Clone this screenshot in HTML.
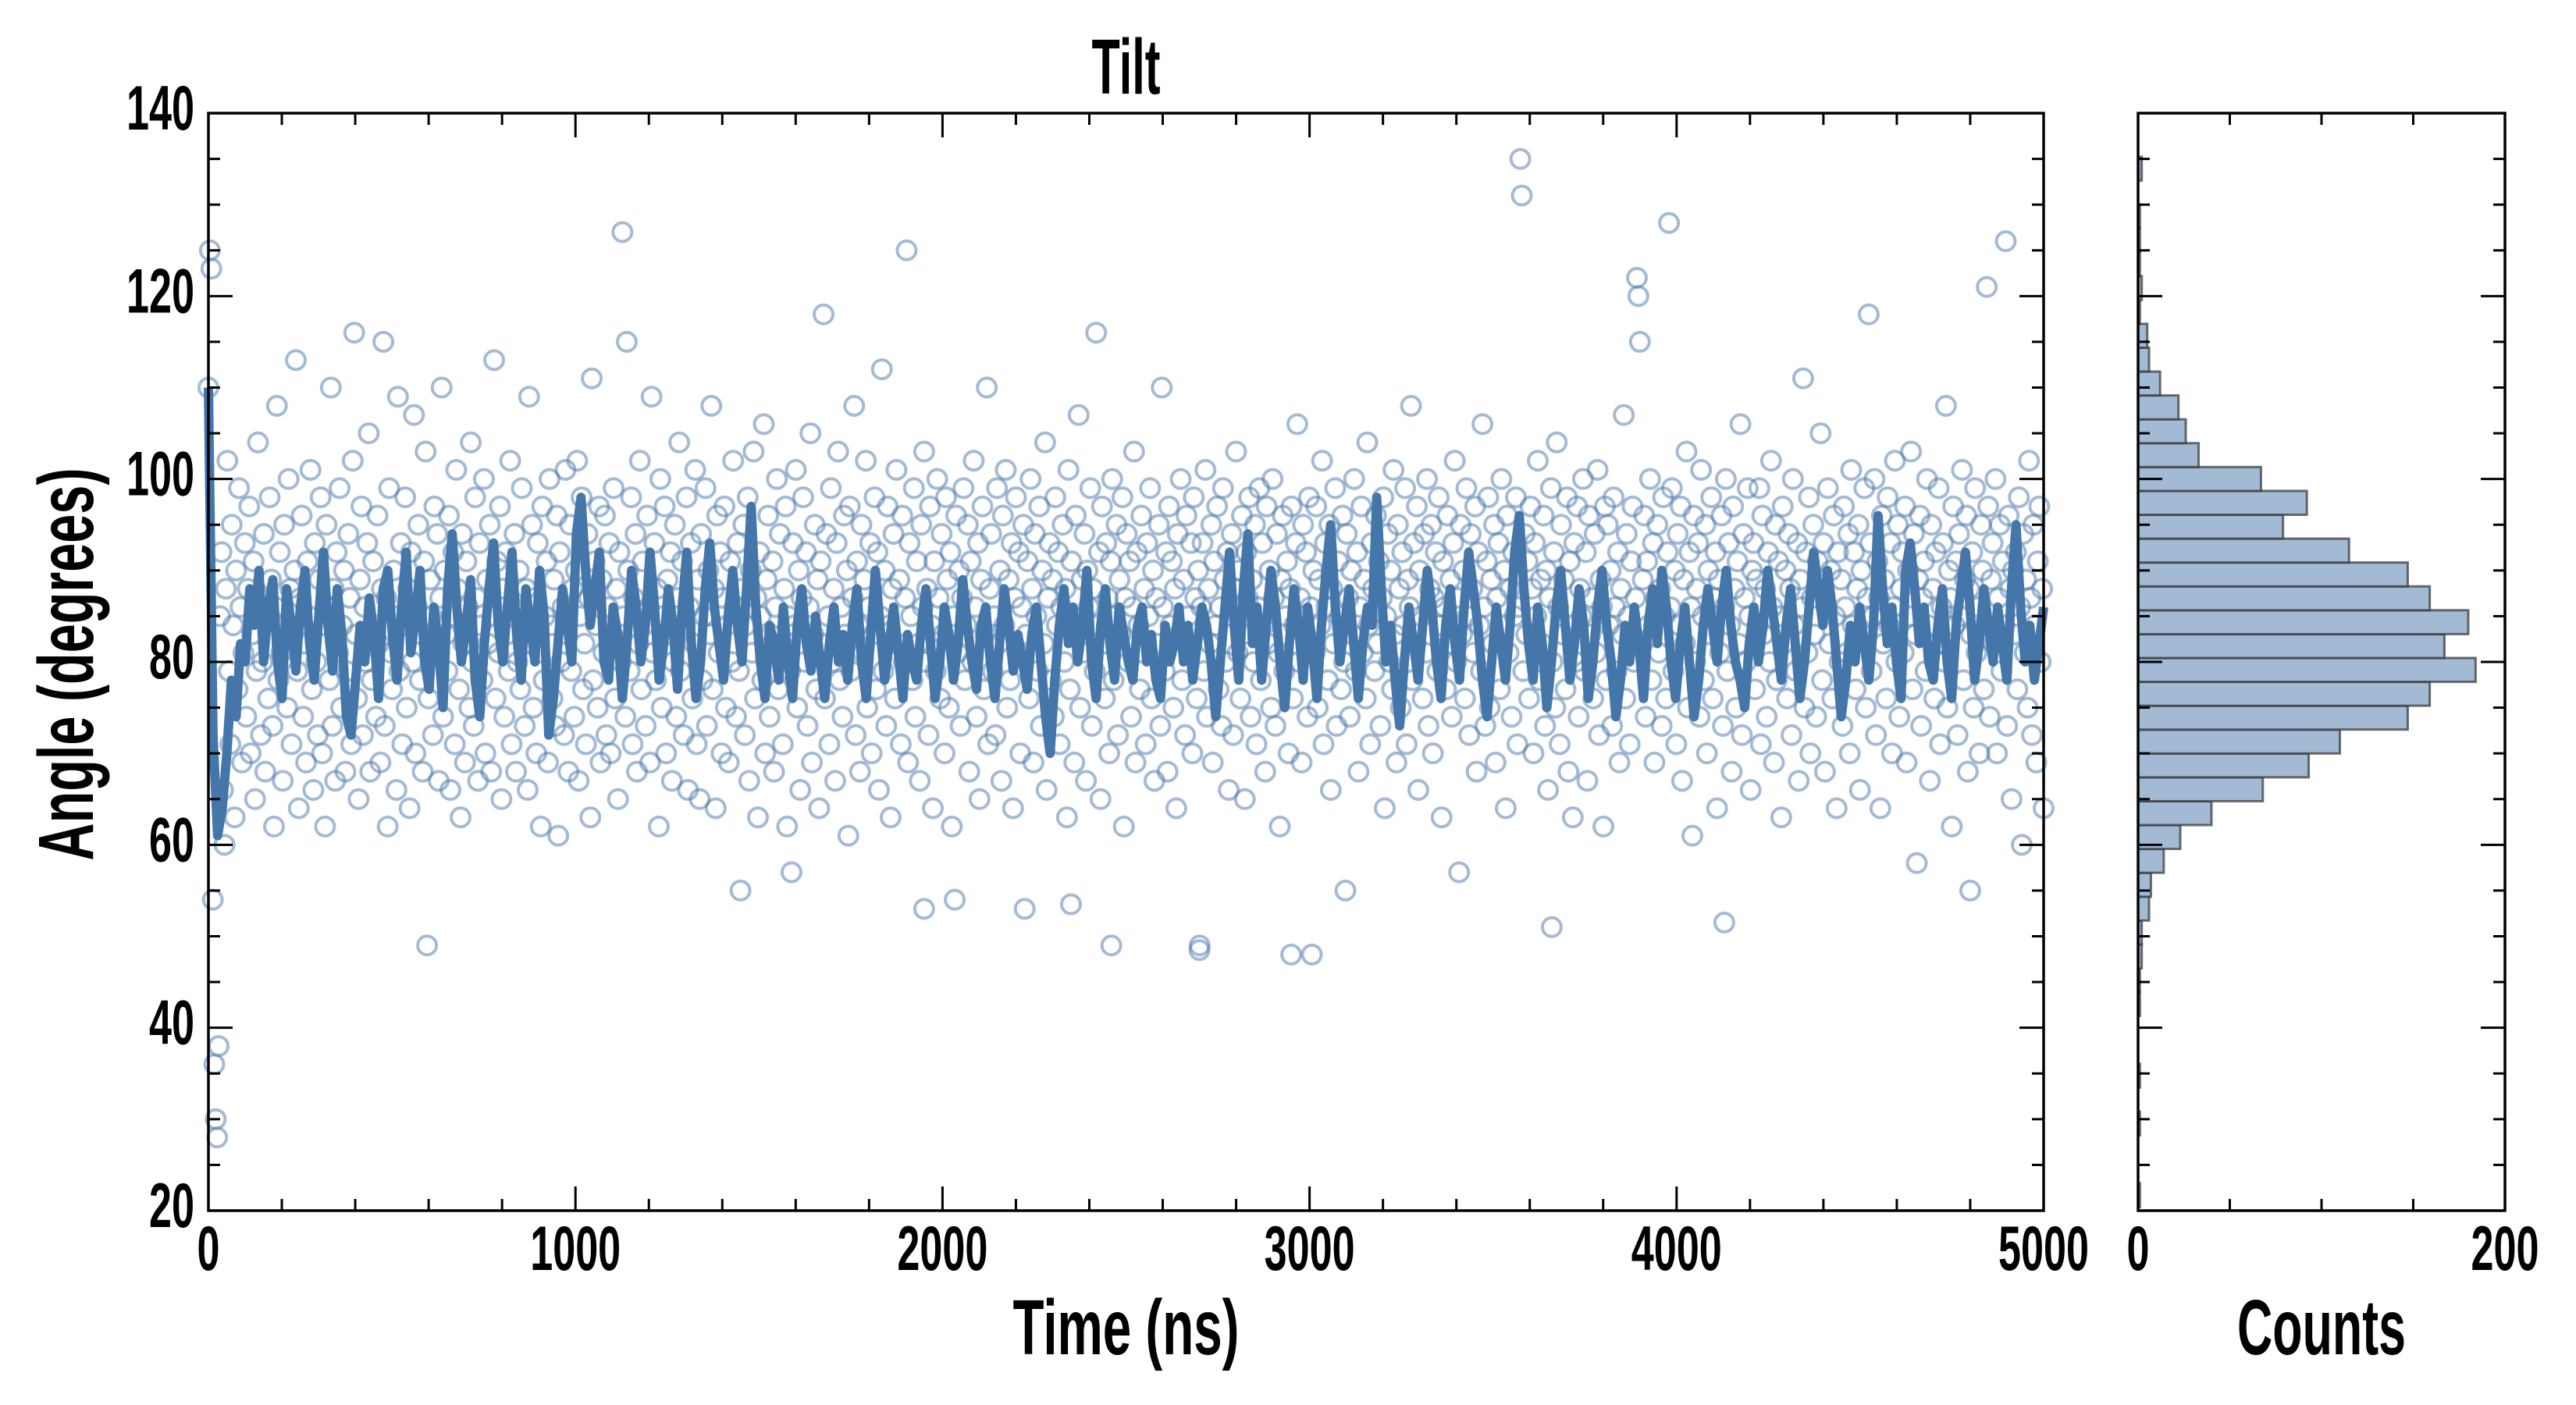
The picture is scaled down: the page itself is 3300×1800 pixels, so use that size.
<!DOCTYPE html>
<html><head><meta charset="utf-8">
<style>
html,body{margin:0;padding:0;background:#fff;}
svg{display:block;}
text{font-family:"Liberation Sans Narrow","Liberation Sans",sans-serif;font-weight:bold;fill:#000;}
</style></head>
<body>
<svg id="chart" width="3300" height="1800" viewBox="0 0 3300 1800" xmlns="http://www.w3.org/2000/svg">
<g id="main"></g>
<g id="hist"></g>
</svg>
<script>
const xTickLabels = ["0","1000","2000","3000","4000","5000"];
const xTickValues = [0,1000,2000,3000,4000,5000];
const yTickValues = [20,40,60,80,100,120,140];
const yTickLabels = ["20","40","60","80","100","120","140"];
const histTickValues = [0,200];
const histTickLabels = ["0","200"];

const scatterAngles = [
110,125,123,54,36,30,28,38,85,92,66,60,88,102,79,71,95,84,63,90,
77,99,86,69,81,93,74,88,97,70,83,91,65,79,104,87,72,80,94,68,
85,76,98,89,73,62,86,108,78,92,81,67,95,84,75,100,88,71,83,90,
113,79,64,87,96,74,82,69,91,85,101,77,66,93,80,72,89,98,70,84,
62,95,86,78,110,73,88,67,92,81,99,75,84,90,68,79,94,87,71,102,
116,83,76,65,89,97,72,86,80,93,105,68,78,91,84,74,96,82,69,88,
115,73,87,62,99,81,77,90,85,66,109,79,93,71,84,98,75,88,64,92,
80,107,70,86,95,78,83,68,91,103,49,76,89,85,72,97,81,94,67,87,
110,74,90,83,79,96,66,85,92,71,101,88,77,63,94,82,69,91,86,75,
104,80,73,98,87,67,93,84,78,100,70,89,82,95,68,85,113,76,91,81,
97,65,88,74,92,83,79,102,71,86,94,68,80,90,77,99,84,73,88,66,
109,82,95,75,87,70,93,81,62,97,78,85,91,69,100,84,76,89,73,96,
61,92,80,86,72,101,83,68,95,79,88,74,90,102,67,85,98,77,82,71,
94,87,63,111,78,91,84,75,97,69,89,81,96,72,86,93,70,83,99,76,
88,65,92,80,127,85,74,115,90,79,98,71,87,94,68,82,102,77,91,84,
73,96,86,69,109,81,93,78,88,62,100,75,85,97,70,89,83,92,67,80,
95,74,87,104,79,91,72,84,98,66,86,93,76,82,101,71,89,65,94,78,
85,99,73,90,83,108,77,88,64,96,81,92,70,87,97,75,84,69,91,80,
102,86,74,93,79,55,88,95,72,84,98,67,90,81,103,76,87,63,92,85,
78,106,70,89,96,74,83,91,68,86,100,77,94,82,71,88,97,62,85,79,
57,93,84,101,75,90,66,87,98,80,92,73,86,105,69,83,95,77,89,64,
91,82,118,76,94,85,71,99,80,88,67,93,103,78,86,74,96,83,90,61,
97,79,87,108,72,91,84,68,95,81,89,102,75,86,93,70,83,98,77,92,
66,85,112,79,90,73,97,84,63,88,94,76,101,82,89,71,96,80,87,125,
69,93,85,78,99,74,91,82,67,95,86,103,80,88,72,97,84,64,91,79,
100,87,76,94,83,70,98,89,75,92,62,85,54,96,81,90,73,87,99,78,
84,95,68,91,80,102,86,74,93,65,89,97,77,83,110,71,88,94,79,85,
72,99,82,90,67,96,84,101,75,89,78,93,64,87,98,81,92,70,86,95,
53,83,91,76,100,88,69,94,85,79,97,73,90,82,104,66,87,93,78,89,
74,98,84,92,71,86,95,80,88,63,101,77,91,85,69,96,83,107,75,89,
81,94,67,90,86,99,73,88,79,116,84,92,65,97,82,76,93,87,70,91,
100,78,85,95,72,89,83,98,62,87,94,80,91,74,86,103,69,92,84,77,
96,81,88,71,93,85,99,76,90,67,87,82,95,73,110,86,79,92,68,97,
84,91,75,88,64,94,83,100,78,89,72,96,85,81,93,70,98,87,76,90,
49,86,93,79,101,74,88,82,95,69,91,84,97,77,86,73,99,89,80,92,
66,85,94,72,88,103,81,90,76,96,83,65,92,87,98,74,89,80,95,71,
86,99,78,93,84,68,97,82,90,75,100,87,73,94,81,62,89,96,79,85,
91,70,88,97,76,84,93,106,80,87,69,95,83,92,74,98,86,48,90,81,
97,75,89,84,102,71,93,86,78,95,66,88,82,99,73,91,85,77,96,80,
55,94,87,74,90,83,100,79,92,68,86,97,81,89,76,104,84,71,93,88,
79,96,82,91,73,87,98,64,85,94,80,90,77,101,83,69,95,88,75,92,
84,99,71,89,86,108,78,93,82,97,66,90,85,76,94,81,100,73,88,95,
70,87,92,79,98,84,63,91,86,77,96,82,89,74,93,102,80,87,57,95,
83,90,76,99,85,72,94,88,81,97,68,92,84,79,106,86,73,91,98,75,
89,82,95,69,87,93,77,100,84,90,64,96,81,88,74,92,85,98,71,86,
135,131,79,94,83,91,76,97,88,70,93,85,102,78,89,82,96,73,90,66,
87,99,80,92,75,104,86,71,95,83,89,77,98,68,91,84,63,93,80,97,
74,88,85,100,79,92,67,96,83,87,76,94,81,101,72,89,86,62,97,78,
95,84,90,73,98,86,79,92,69,88,83,107,76,94,85,71,91,97,80,87,
122,120,115,82,89,96,74,91,84,100,78,93,69,87,95,81,88,73,98,85,
76,92,128,86,99,79,90,71,94,84,97,67,89,82,103,75,92,86,61,96,
80,88,93,74,101,85,78,95,70,90,83,98,76,87,92,64,89,81,96,73,
86,100,79,93,84,68,97,88,75,91,82,106,72,94,87,80,99,85,66,90,
93,77,89,84,99,71,96,83,88,74,92,80,102,86,69,95,78,91,85,63,
97,82,90,76,94,88,72,100,84,79,93,67,89,86,111,75,92,81,98,70,
87,95,83,74,91,88,105,78,93,68,86,99,82,90,76,96,85,64,92,80,
89,73,97,86,81,94,70,101,84,92,77,88,95,66,90,83,99,75,87,118,
93,79,85,100,72,91,87,64,96,82,89,76,98,84,93,70,86,102,80,95,
74,88,92,81,97,69,90,85,103,77,94,83,58,89,96,73,87,91,79,100,
84,67,95,88,76,92,82,99,71,86,93,80,108,75,90,87,62,97,84,91,
72,94,85,101,78,89,96,68,88,83,92,75,99,81,86,70,95,90,77,84,
121,97,74,89,93,82,100,70,87,95,79,91,84,126,73,96,88,65,90,83,
92,77,98,86,60,94,81,89,75,102,87,72,95,84,69,91,97,80,88,64];

const outlierTimes = [2700,2460,2950,3660,4130,1950,2350,4800];
const outlierAngles = [48.5,49,48,51,51.5,53,53.5,55];

const lineAngles = [
110,72,61,64,70,78,74,82,80,88,84,90,80,86,89,80,76,88,84,79,
86,90,82,78,85,92,84,79,88,83,74,72,78,84,80,87,83,76,88,90,
83,78,86,92,81,85,90,80,77,86,82,75,88,94,86,80,84,89,78,74,
82,88,93,84,80,86,92,83,78,88,84,80,90,85,72,76,82,88,84,80,
94,98,90,84,88,92,80,78,86,83,76,82,90,86,80,84,92,86,78,82,
88,84,77,86,92,82,76,80,88,93,86,82,78,85,90,84,80,88,97,86,
80,76,84,82,78,86,80,76,84,88,82,79,85,80,76,82,86,80,83,78,
84,88,80,76,83,90,84,78,82,86,81,76,83,80,78,84,88,82,76,80,
86,83,78,82,89,84,80,77,84,86,80,76,82,88,84,79,83,80,77,83,
86,80,74,70,78,84,88,82,86,80,84,90,80,76,84,88,82,78,86,83,
80,78,84,86,80,83,78,76,84,80,82,86,80,84,78,82,86,84,80,74,
80,86,92,84,78,88,94,82,86,78,84,90,86,80,75,82,88,84,78,86,
82,76,84,90,95,86,80,84,88,82,76,82,86,84,98,88,80,84,78,73,
80,86,82,78,84,90,86,80,76,84,88,82,78,86,92,88,84,78,74,80,
86,82,78,84,92,96,88,82,78,86,82,75,80,86,90,84,78,82,88,84,
76,80,86,90,84,80,74,78,84,80,86,82,76,84,88,82,90,86,80,76,
82,86,80,74,78,84,88,84,80,86,90,84,80,78,75,82,86,80,84,90,
86,82,78,84,88,82,76,80,86,92,88,84,90,86,80,74,78,84,80,86,
82,78,84,96,88,82,86,80,76,90,93,88,82,86,80,78,84,88,80,76,
84,88,92,86,78,82,88,84,80,86,82,78,88,95,86,80,84,78,82,86];

const histBinStart = 20.4;
const histBinWidth = 2.61;
const histCounts = [1,0,0,1,0,1,0,0,1,1,2,2,6,7,14,23,40,68,93,110,147,159,184,167,180,159,147,115,79,92,67,33,26,22,12,6,5,1,2,1,1,1,0,2];

const NS='http://www.w3.org/2000/svg';
const M={l:267,r:2618,t:145,b:1551};
const H={l:2739,r:3209,t:145,b:1551};
const xS=v=>M.l+(v-0)/(5000-0)*(M.r-M.l);
const yS=v=>M.b-(v-20)/(140-20)*(M.b-M.t);
const hS=v=>H.l+v/200*(H.r-H.l);
function mk(tag,attrs,parent){const e=document.createElementNS(NS,tag);for(const k in attrs)e.setAttribute(k,attrs[k]);parent.appendChild(e);return e;}
const main=document.getElementById('main');
const hist=document.getElementById('hist');

const sg=mk('g',{},main);


const n=scatterAngles.length;
scatterAngles.forEach((a,i)=>{
  const c=mk('circle',{cx:xS(i*5000/(n-1)),cy:yS(a),r:12,fill:'none',stroke:'#4a78ab','stroke-opacity':0.5,'stroke-width':4},sg);
  
  
});
outlierAngles.forEach((a,i)=>{
  const c=mk('circle',{cx:xS(outlierTimes[i]),cy:yS(a),r:12,fill:'none',stroke:'#4a78ab','stroke-opacity':0.5,'stroke-width':4},sg);
  
  
});
const m=lineAngles.length;
const pts=lineAngles.map((a,i)=>xS(i*5000/(m-1)).toFixed(1)+','+yS(a).toFixed(1)).join(' ');
const pl=mk('polyline',{points:pts,fill:'none',stroke:'#4576a9','stroke-width':12,'stroke-linejoin':'round'},main);



histCounts.forEach((c,i)=>{
  if(c<=0)return;
  const y0=yS(histBinStart+(i+1)*histBinWidth), y1=yS(histBinStart+i*histBinWidth);
  const r=mk('rect',{x:hS(0),y:y0,width:hS(c)-hS(0),height:y1-y0,fill:'#a3bad4',stroke:'#333','stroke-opacity':0.7,'stroke-width':3},hist);
  
  
});

function frame(P,parent,name){
  const f=mk('rect',{x:P.l,y:P.t,width:P.r-P.l,height:P.b-P.t,fill:'none',stroke:'#000','stroke-width':3.5},parent);
  
  
}
function tick(x1,y1,x2,y2,parent){
  const t=mk('line',{x1,y1,x2,y2,stroke:'#000','stroke-width':3},parent);
  
  
}
function label(x,y,txt,anchor,size,parent,name,len){
  const t=mk('text',{x,y,'text-anchor':anchor,'font-size':size},parent);
  if(len){t.setAttribute('textLength',len);t.setAttribute('lengthAdjust','spacingAndGlyphs');}
  t.textContent=txt;
  
  
  return t;
}
frame(M,main,'main-axes-frame');
frame(H,hist,'hist-axes-frame');
for(let v=0;v<=5000;v+=200){
  const major=v%1000===0, L=major?31:15, x=xS(v);
  tick(x,M.b,x,M.b-L,main); tick(x,M.t,x,M.t+L,main);
}
for(let v=20;v<=140;v+=5){
  const major=v%20===0, L=major?31:15, y=yS(v);
  tick(M.l,y,M.l+L,y,main); tick(M.r,y,M.r-L,y,main);
  tick(H.l,y,H.l+L,y,hist); tick(H.r,y,H.r-L,y,hist);
}
for(let v=0;v<=200;v+=50){
  const major=v%200===0, L=major?31:15, x=hS(v);
  tick(x,H.b,x,H.b-L,hist); tick(x,H.t,x,H.t+L,hist);
}
xTickValues.forEach((v,i)=>label(xS(v),1627,xTickLabels[i],'middle',81,main,'x-tick-label',xTickLabels[i].length*29));
yTickValues.forEach((v,i)=>label(249,yS(v)+21,yTickLabels[i],'end',81,main,'y-tick-label',yTickLabels[i].length*29));
histTickValues.forEach((v,i)=>label(hS(v),1627,histTickLabels[i],'middle',81,hist,'hist-x-tick-label',histTickLabels[i].length*29));
label((M.l+M.r)/2,120,'Tilt','middle',100,main,'chart-title',88);
label((M.l+M.r)/2,1735,'Time (ns)','middle',100,main,'x-axis-title',290);
label((H.l+H.r)/2,1735,'Counts','middle',100,hist,'hist-x-axis-title',216);
const yl=label(0,0,'Angle (degrees)','middle',100,main,'y-axis-title',503);
yl.setAttribute('transform','translate(119,851) rotate(-90)');
</script>
</body></html>
